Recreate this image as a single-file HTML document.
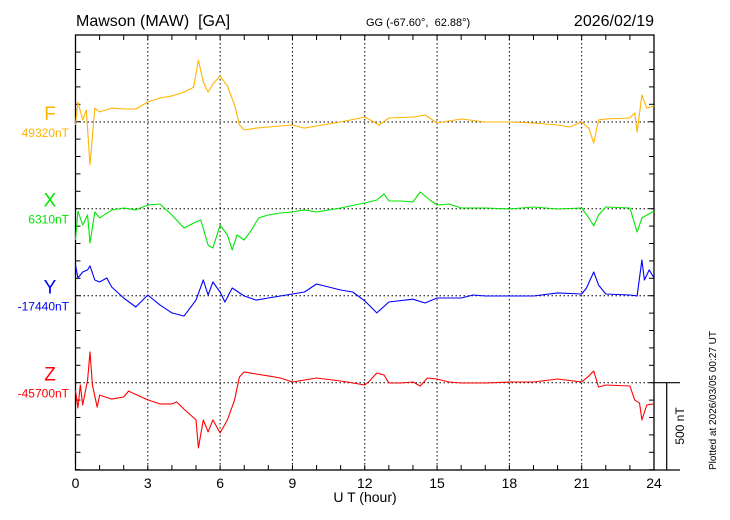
<!DOCTYPE html>
<html><head><meta charset="utf-8">
<style>
html,body{margin:0;padding:0;background:#fff;}
svg{display:block;font-family:"Liberation Sans",Arial,sans-serif;}
</style></head>
<body>
<svg id="chart" width="730" height="520" viewBox="0 0 730 520">
  <text x="76" y="26" font-size="16" fill="#000" style="white-space:pre">Mawson (MAW)  [GA]</text>
  <text x="366" y="26" font-size="11" fill="#000" style="white-space:pre">GG (-67.60°,  62.88°)</text>
  <text x="654" y="26" font-size="16" fill="#000" text-anchor="end">2026/02/19</text>
  <g id="grid"></g>
  <g id="axes"></g>
  <g id="series"></g>
  <g id="labels"></g>
  <text x="365" y="502" font-size="14" text-anchor="middle" fill="#000" style="white-space:pre">U T (hour)</text>
  <text transform="translate(684,426) rotate(-90)" font-size="12" text-anchor="middle" fill="#000">500 nT</text>
  <text transform="translate(716,470) rotate(-90)" font-size="10" fill="#000">Plotted at 2026/03/05 00:27 UT</text>
</svg>
<script>
const xTicks = [0,3,6,9,12,15,18,21,24];
const components = ["F","X","Y","Z"];
const baseValues = ["49320nT","6310nT","-17440nT","-45700nT"];
const colors = ["#ffb400","#00e600","#0000ff","#ff0000"];
const fHours = [0,0.1,0.3,0.45,0.6,0.8,1,1.5,2,2.5,3,3.5,4,4.5,4.9,5.1,5.3,5.5,5.7,6,6.3,6.6,6.8,7,7.5,8,9,9.5,10,11,12,12.6,13,14,14.5,15,15.5,16,17,18,19,20,20.5,21,21.3,21.5,21.7,22,23,23.2,23.3,23.5,23.7,24];
const fValues = [-17,115,12,69,-247,80,58,80,75,75,115,138,150,172,200,356,230,172,218,264,207,98,-17,-46,-35,-29,-17,-35,-23,0,29,-17,23,29,40,-6,6,17,0,0,-6,-17,-29,0,-35,-121,12,17,23,52,-58,155,80,92];
const xHours = [0,0.1,0.3,0.5,0.6,0.8,1,1.5,2,2.5,3,3.5,4,4.5,5,5.2,5.5,5.7,6,6.3,6.5,6.7,7,7.3,7.6,8,8.5,9,9.5,10,11,12,12.5,12.8,13,13.5,14,14.3,14.7,15,15.5,16,17,18,19,20,21,21.3,21.5,21.7,22,23,23.3,23.5,24];
const xValues = [-180,-13,-94,-36,-197,-19,-53,-7,4,-7,21,27,-36,-111,-76,-65,-209,-226,-94,-151,-237,-151,-180,-122,-53,-36,-25,-19,-7,-19,4,33,50,85,44,44,39,96,50,21,27,4,4,-2,10,-2,4,-53,-99,-36,10,4,-134,-53,-13];
const yHours = [0,0.1,0.3,0.5,0.6,0.8,1,1.3,1.5,2,2.5,3,3.5,4,4.5,5,5.3,5.5,5.7,6,6.2,6.5,7,7.5,8,9,9.5,10,10.5,11,11.5,12,12.5,13,14,14.5,15,16,16.5,17,18,19,20,21,21.2,21.5,21.7,22,23,23.3,23.5,23.6,23.8,24];
const yValues = [177,102,136,148,171,90,79,102,50,-13,-65,4,-53,-99,-117,-25,90,4,79,21,-36,44,-2,-25,-13,10,21,67,50,33,21,-30,-99,-36,-20,-42,-13,-13,4,-2,-2,-2,16,10,44,136,61,10,4,-2,205,90,148,102];
const zHours = [0,0.1,0.2,0.3,0.5,0.6,0.7,0.9,1,1.5,2,2.2,3,3.5,4,4.2,4.5,5,5.1,5.3,5.5,5.7,6,6.3,6.6,6.8,7,7.5,8,8.5,9,10,11,12,12.2,12.5,12.8,13,13.5,14,14.3,14.6,15,15.5,16,17,18,19,20,21,21.3,21.5,21.7,22,23,23.2,23.4,23.5,23.7,24];
const zValues = [-42,-145,-13,-128,16,177,-13,-140,-71,-94,-82,-48,-99,-122,-122,-111,-152,-214,-375,-214,-283,-214,-289,-214,-99,33,62,50,39,27,4,27,10,-13,10,56,44,-2,-2,4,-19,27,21,4,-2,-2,4,4,21,4,39,67,-25,-13,-19,-99,-117,-214,-128,-122];
const seriesHours = [fHours,xHours,yHours,zHours];
const seriesValues = [fValues,xValues,yValues,zValues];

const NS="http://www.w3.org/2000/svg";
const L=75.5,R=654,T=35,B=470;
const baselines=[122,208.7,295.7,382.7];
const pxPerNT=87/500;
function xs(h){return L+(R-L)*h/24;}
function ys(i,v){return baselines[i]-v*pxPerNT;}
function mk(tag,attrs,parent){const e=document.createElementNS(NS,tag);for(const k in attrs)e.setAttribute(k,attrs[k]);parent.appendChild(e);return e;}
const grid=document.getElementById('grid'),axes=document.getElementById('axes'),ser=document.getElementById('series'),lab=document.getElementById('labels');

xTicks.forEach(h=>{
  if(h>0&&h<24){
    const g=mk('line',{x1:xs(h),x2:xs(h),y1:T,y2:B,stroke:'#000','stroke-width':1,'stroke-dasharray':'1.5,2.5'},grid);
    
    
  }
  const t=mk('text',{x:xs(h),y:488,'font-size':14,'text-anchor':'middle',fill:'#000'},axes);
  t.textContent=h;
  
  
});
baselines.forEach((b,i)=>{
  const g=mk('line',{x1:L,x2:R,y1:b,y2:b,stroke:'#000','stroke-width':1,'stroke-dasharray':'1.5,2.5'},grid);
  
  
});
const fr=mk('rect',{x:L,y:T,width:R-L,height:B-T,fill:'none',stroke:'#000','stroke-width':1.3},axes);


for(let h=1;h<24;h++){
  mk('line',{x1:xs(h),x2:xs(h),y1:T,y2:T+5,stroke:'#000'},axes);
  mk('line',{x1:xs(h),x2:xs(h),y1:B,y2:B-5,stroke:'#000'},axes);
}
for(let y=382.7+87;y>T;y-=17.4){
  mk('line',{x1:L,x2:L+5,y1:y,y2:y,stroke:'#000'},axes);
  mk('line',{x1:R,x2:R-5,y1:y,y2:y,stroke:'#000'},axes);
}
const sb=mk('path',{d:`M${R} ${baselines[3]}H680M666.7 ${baselines[3]}V${B}M${R} ${B}H680`,stroke:'#000',fill:'none','stroke-width':1.2},axes);



components.forEach((c,i)=>{
  const hs=seriesHours[i],vs=seriesValues[i];
  const d=hs.map((h,k)=>(k?'L':'M')+xs(h).toFixed(1)+' '+ys(i,vs[k]).toFixed(1)).join('');
  const p=mk('path',{d:d,fill:'none',stroke:colors[i],'stroke-width':1.1,'stroke-linejoin':'round'},ser);
  
  
  const t1=mk('text',{x:50,y:baselines[i]-2,'font-size':19,'text-anchor':'middle',fill:colors[i]},lab);
  t1.textContent=c;
  
  
  const t2=mk('text',{x:69,y:baselines[i]+15,'font-size':12,'text-anchor':'end',fill:colors[i]},lab);
  t2.textContent=baseValues[i];
  
  
});
</script>
</body></html>
